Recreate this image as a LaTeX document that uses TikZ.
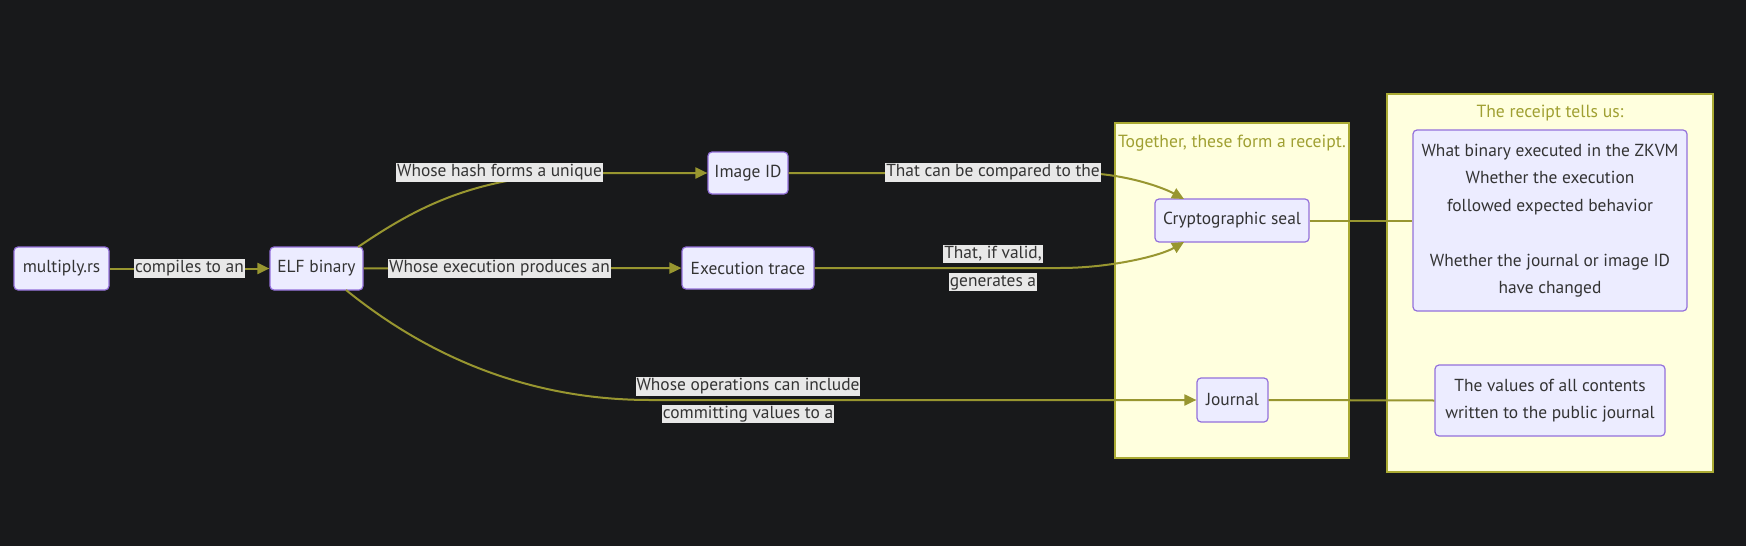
\documentclass[tikz,border=0pt]{standalone}
\usepackage{fontspec}
\setmainfont{PT Sans}
\usetikzlibrary{arrows.meta}
\definecolor{bgc}{RGB}{24,25,27}
\definecolor{edgec}{RGB}{152,150,48}
\definecolor{nodefill}{RGB}{236,236,255}
\definecolor{nodedraw}{RGB}{147,112,219}
\definecolor{txt}{RGB}{51,51,51}
\definecolor{clfill}{RGB}{255,255,222}
\definecolor{cldraw}{RGB}{170,170,51}
\definecolor{cltitle}{RGB}{160,160,50}
\definecolor{lblfill}{RGB}{232,232,232}
\begin{document}
\begin{tikzpicture}[x=1pt,y=-1pt,
  box/.style={draw=nodedraw, fill=nodefill, line width=1.2pt, rounded corners=4pt,
    text=txt, font=\fontsize{17.4}{27.5}\selectfont, align=center, inner sep=0pt},
  lbl/.style={fill=lblfill, text=txt, font=\fontsize{17.4}{19}\selectfont,
    inner xsep=1pt, inner ysep=0pt, text height=13.5pt, text depth=5pt},
  cluster/.style={draw=cldraw, fill=clfill, line width=1.2pt},
  cltext/.style={text=cltitle, font=\fontsize{17.6}{19}\selectfont},
  conn/.style={draw=edgec, line width=2pt},
  arr/.style={conn, -{Triangle[length=12pt,width=11pt]}}
]
\fill[bgc] (0,0) rectangle (1746,546);
\useasboundingbox (0,0) rectangle (1746,546);

% clusters
\draw[cluster] (1115,123) rectangle (1349,458);
\node[cltext] (t1) at (1232,143) {Together, these form a receipt.};
\draw[cluster] (1387,94) rectangle (1713,472);
\node[cltext] (t2) at (1550,113) {The receipt tells us:};

% nodes
\node[box, minimum width=95pt, minimum height=43pt] (mrs) at (61.5,268.5) {multiply.rs};
\node[box, minimum width=93pt, minimum height=43pt] (elf) at (316.5,268.5) {ELF binary};
\node[box, minimum width=80pt, minimum height=42pt] (img) at (748,173) {Image ID};
\node[box, minimum width=132pt, minimum height=42pt] (exe) at (748,268) {Execution trace};
\node[box, minimum width=154pt, minimum height=43pt] (seal) at (1232,220.5) {Cryptographic seal};
\node[box, minimum width=71pt, minimum height=44pt] (jour) at (1232.5,400) {Journal};
\node[box, minimum width=274pt, minimum height=181pt] (rcpt) at (1550,220.5)
  {What binary executed in the ZKVM\\Whether the execution\\followed expected behavior\\[27.5pt]Whether the journal or image ID\\have changed};
\node[box, minimum width=230pt, minimum height=71pt] (vals) at (1550,400.5)
  {The values of all contents\\written to the public journal};

% connectors
\coordinate (h1) at (600,173);
\coordinate (h2) at (650,400);
\coordinate (h3) at (1080,173);
\coordinate (h4) at (1060,268);
\coordinate (sealtop) at (1184,199);
\coordinate (sealbot) at (1184,242);
\coordinate (elftr) at (358,247);
\coordinate (elfbr) at (346,290);

\draw[arr] (mrs) -- (elf);
\draw[arr] (elftr) .. controls (420,205) and (480,173) .. (h1) -- (img.west);
\draw[arr] (elf) -- (exe);
\draw[arr] (elfbr) .. controls (420,350) and (520,400) .. (h2) -- (jour.west);
\draw[arr] (img.east) -- (h3) .. controls (1120,173) and (1160,186) .. (sealtop);
\draw[arr] (exe.east) -- (h4) .. controls (1110,268) and (1160,256) .. (sealbot);
\draw[conn] (seal.east) -- (rcpt.west);
\draw[conn] (jour.east) -- (vals.west);

% edge labels
\node[lbl] (l1) at (189.5,268.5) {compiles to an};
\node[lbl] (l2) at (499.5,172.5) {Whose hash forms a unique};
\node[lbl] (l3) at (499.5,268.5) {Whose execution produces an};
\node[lbl] (l4) at (993,172.5) {That can be compared to the};
\node[lbl] (l5a) at (993,254) {That, if valid,};
\node[lbl] (l5b) at (993,282) {generates a};
\node[lbl] (l6a) at (748,386.5) {Whose operations can include};
\node[lbl] (l6b) at (748,414) {committing values to a};
\end{tikzpicture}
\end{document}
